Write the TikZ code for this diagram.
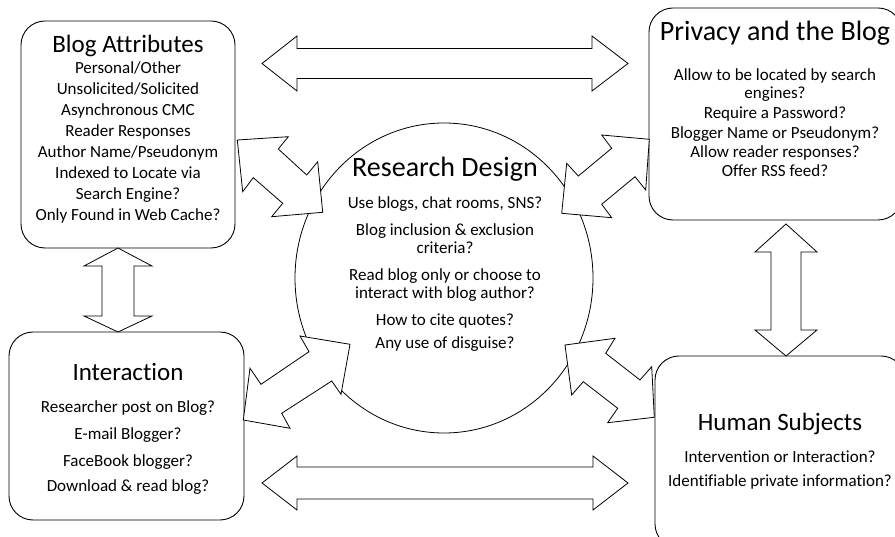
\documentclass[tikz,border=0pt]{standalone}
\usepackage{fontspec}
\setmainfont{Carlito}[Ligatures={NoCommon}]
\usetikzlibrary{shapes.geometric}
\begin{document}
\begin{tikzpicture}[x=1pt,y=-1pt,
  box/.style={draw, rounded corners=24pt, fill=white, line width=0.9pt, inner sep=0pt},
  blk/.style={draw, fill=white, line join=miter, line width=0.8pt},
  ttl/.style={font=\fontsize{25}{30}\selectfont, inner sep=0pt, anchor=base},
  bigttl/.style={font=\fontsize{28}{33}\selectfont, inner sep=0pt, anchor=base},
  bodytxt/.style={font=\fontsize{17}{20}\selectfont, inner sep=0pt, anchor=base}]
\useasboundingbox (0,0) rectangle (895,537);
\clip (0,0) rectangle (895,537);
\fill[white] (0,0) rectangle (895,537);

% central circle
\node[draw, ellipse, fill=white, line width=0.8pt, inner sep=0pt,
      minimum width=298pt, minimum height=310pt] (rd) at (444,278) {};

% boxes
\node[box, minimum width=214pt, minimum height=227pt] (attr) at (128,134.5) {};
\node[box, minimum width=235pt, minimum height=188pt] (inter) at (126.5,426) {};
\node[box, minimum width=253pt, minimum height=212pt] (priv) at (775.5,114) {};
\node[box, minimum width=250pt, minimum height=192pt] (human) at (780,452) {};

% horizontal and vertical block arrows
\draw[blk] (262,63.5) -- (297,36) -- (297,48.5) -- (592,48.5) -- (592,36) -- (628,63.5)
  -- (592,91) -- (592,78.5) -- (297,78.5) -- (297,91) -- cycle;
\draw[blk] (262,483) -- (297,456) -- (297,467) -- (593,467) -- (593,456) -- (628,483)
  -- (593,510) -- (593,499) -- (297,499) -- (297,510) -- cycle;
\draw[blk] (118,248) -- (152,266) -- (134,266) -- (134,316) -- (152,316) -- (118,332)
  -- (84,316) -- (102,316) -- (102,266) -- (84,266) -- cycle;
\draw[blk] (786,224) -- (817,252) -- (801,252) -- (801,330) -- (817,330) -- (786,356)
  -- (755,330) -- (771,330) -- (771,252) -- (755,252) -- cycle;

% diagonal block arrows
\draw[blk] (237.3,140) -- (288.3,136.7) -- (278.3,149) -- (306.7,175) -- (317.7,161.7)
  -- (322.7,212.3) -- (271.7,216.7) -- (282.7,203.3) -- (253.3,177.7) -- (242.7,191.7) -- cycle;
\draw[blk] (601.7,135) -- (649.3,139.3) -- (645.7,190) -- (635,176.7) -- (601.7,204.3)
  -- (611.7,217.7) -- (561.7,213.3) -- (566.7,163.3) -- (578.3,176) -- (611.7,148.3) -- cycle;
\draw[blk] (300,336) -- (350,344.3) -- (341,394.3) -- (331.7,381) -- (281.7,413.3)
  -- (290,428.3) -- (243.3,420) -- (250,368.3) -- (261,384.3) -- (309,351.7) -- cycle;
\draw[blk] (565,345) -- (615,338.3) -- (605.7,353.3) -- (640,380) -- (651.7,366.7)
  -- (654.3,417.3) -- (607.7,422.7) -- (617.7,408.3) -- (583.3,381.7) -- (571.7,395) -- cycle;

% Blog Attributes
\node[ttl] (attrT) at (128,53) {Blog Attributes};
\node[bodytxt] (attr1) at (128,74) {Personal/Other};
\node[bodytxt] (attr2) at (128,95) {Unsolicited/Solicited};
\node[bodytxt] (attr3) at (128,116) {Asynchronous CMC};
\node[bodytxt] (attr4) at (128,137) {Reader Responses};
\node[bodytxt] (attr5) at (128,158) {Author Name/Pseudonym};
\node[bodytxt] (attr6) at (128,179) {Indexed to Locate via};
\node[bodytxt] (attr7) at (128,200) {Search Engine?};
\node[bodytxt] (attr8) at (128,221) {Only Found in Web Cache?};

% Privacy and the Blog
\node[bigttl] (privT) at (775,41) {Privacy and the Blog};
\node[bodytxt] (priv1) at (775,81) {Allow to be located by search};
\node[bodytxt] (priv2) at (775,99) {engines?};
\node[bodytxt] (priv3) at (775,119) {Require a Password?};
\node[bodytxt] (priv4) at (775,138.5) {Blogger Name or Pseudonym?};
\node[bodytxt] (priv5) at (775,158) {Allow reader responses?};
\node[bodytxt] (priv6) at (775,177) {Offer RSS feed?};

% Research Design
\node[bigttl] (rdT) at (445,177) {Research Design};
\node[bodytxt] (rd1) at (445,209) {Use blogs, chat rooms, SNS?};
\node[bodytxt] (rd2) at (445,236) {Blog inclusion \& exclusion};
\node[bodytxt] (rd3) at (445,254) {criteria?};
\node[bodytxt] (rd4) at (445,281) {Read blog only or choose to};
\node[bodytxt] (rd5) at (445,299) {interact with blog author?};
\node[bodytxt] (rd6) at (445,326) {How to cite quotes?};
\node[bodytxt] (rd7) at (445,349) {Any use of disguise?};

% Interaction
\node[ttl] (interT) at (128,381) {Interaction};
\node[bodytxt] (inter1) at (128,413) {Researcher post on Blog?};
\node[bodytxt] (inter2) at (128,439) {E-mail Blogger?};
\node[bodytxt] (inter3) at (128,466) {FaceBook blogger?};
\node[bodytxt] (inter4) at (128,491) {Download \& read blog?};

% Human Subjects
\node[ttl] (humanT) at (780,431) {Human Subjects};
\node[bodytxt] (human1) at (780,462) {Intervention or Interaction?};
\node[bodytxt] (human2) at (780,486) {Identifiable private information?};
\end{tikzpicture}
\end{document}
